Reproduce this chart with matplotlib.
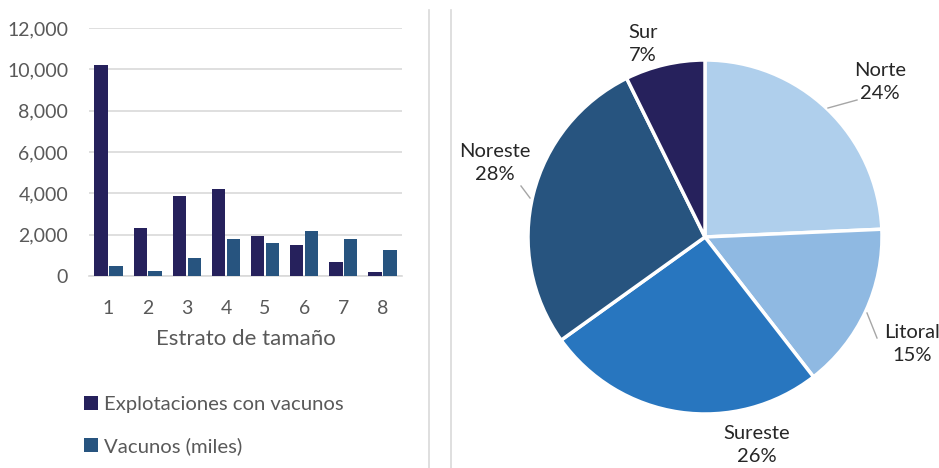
import numpy as np
import matplotlib
matplotlib.use("Agg")
import matplotlib.pyplot as plt
from matplotlib.lines import Line2D

plt.rcParams['font.family'] = ['Lato', 'DejaVu Sans']

# bar chart data
estratos = ['1', '2', '3', '4', '5', '6', '7', '8']
explotaciones = [10200, 2300, 3850, 4200, 1930, 1520, 680, 210]
vacunos_miles = [480, 240, 890, 1790, 1580, 2190, 1800, 1270]
serie_nombres = ['Explotaciones con vacunos', 'Vacunos (miles)']

# pie chart data (share of vacunos per region, %)
regiones = ['Norte', 'Litoral', 'Sureste', 'Noreste', 'Sur']
participacion = [24.3, 15.2, 25.6, 27.6, 7.3]

dark_navy = '#26215C'
steel_blue = '#27547F'
pie_colors = ['#AFCFEC', '#8FB9E2', '#2876BF', '#27547F', '#26215C']
gray_txt = '#595959'
grid_col = '#D9D9D9'

fig = plt.figure(figsize=(9.39, 4.68), dpi=100)

# ---- left: grouped bars ----
ax = fig.add_axes([89/939, 1-276/468, 313/939, 248/468])
x = np.arange(1, len(estratos) + 1)
w = 0.34
b1 = ax.bar(x - 0.19, explotaciones, w, color=dark_navy, zorder=3)
b2 = ax.bar(x + 0.19, vacunos_miles, w, color=steel_blue, zorder=3)
ax.set_xlim(0.5, 8.5)
ax.set_ylim(0, 12000)
ax.set_yticks(range(0, 12001, 2000))
ax.yaxis.set_major_formatter(matplotlib.ticker.FuncFormatter(lambda v, p: f'{int(v):,}'))
ax.set_xticks(x)
ax.set_xticklabels(estratos)
ax.grid(axis='y', color=grid_col, linewidth=1.2, zorder=0)
for s in ['top', 'right', 'left']:
    ax.spines[s].set_visible(False)
ax.spines['bottom'].set_color(grid_col)
ax.spines['bottom'].set_linewidth(1.2)
ax.tick_params(axis='both', length=0, colors=gray_txt, labelsize=14)
ax.tick_params(axis='y', pad=15)
ax.tick_params(axis='x', pad=17)
ax.set_xlabel('Estrato de tamaño', fontsize=16, color=gray_txt)
ax.xaxis.set_label_coords(0.5, -0.215)

fig.legend([b1, b2], serie_nombres, loc='upper left',
           bbox_to_anchor=(84/939, 1-396/468), frameon=False,
           fontsize=14.6, labelcolor=gray_txt, handlelength=0.7, handleheight=0.7,
           handletextpad=0.3, labelspacing=1.2, borderpad=0, borderaxespad=0)

# separator lines
fig.add_artist(Line2D([429/939, 429/939], [0, 1-10/468], color=grid_col, lw=1.2))
fig.add_artist(Line2D([451/939, 451/939], [0, 1-10/468], color=grid_col, lw=1.2))

# ---- right: pie ----
cx, cy, r = 705, 237, 177
pax = fig.add_axes([445/939, 0, 494/939, 1])
pax.axis('off')
wedges, _ = pax.pie(participacion, colors=pie_colors, startangle=90, counterclock=False,
                    wedgeprops=dict(edgecolor='white', linewidth=2.5))
pax.set_xlim((445-cx)/r, (939-cx)/r)
pax.set_ylim(-(468-cy)/r, cy/r)
pax.set_aspect('auto')

# label positions (pixels) and leader lines
label_pos = {'Norte': (880, 82), 'Litoral': (912, 344), 'Sureste': (757, 445),
             'Noreste': (495, 163), 'Sur': (643, 44)}
leaders = {'Norte': ((828, 108), (857, 100)),
           'Litoral': ((867, 313), (877, 338)),
           'Noreste': ((530, 198), (521, 186))}
for wdg, name, val in zip(wedges, regiones, participacion):
    px, py = label_pos[name]
    pax.text((px-cx)/r, (cy-py)/r, f'{name}\n{val:.0f}%', ha='center', va='center',
             fontsize=14.5, color='#262626', linespacing=1.4)
    if name in leaders:
        (x0, y0), (x1, y1) = leaders[name]
        pax.plot([(x0-cx)/r, (x1-cx)/r], [(cy-y0)/r, (cy-y1)/r], color='#A6A6A6', lw=1)

fig.savefig('out.png', dpi=100)
